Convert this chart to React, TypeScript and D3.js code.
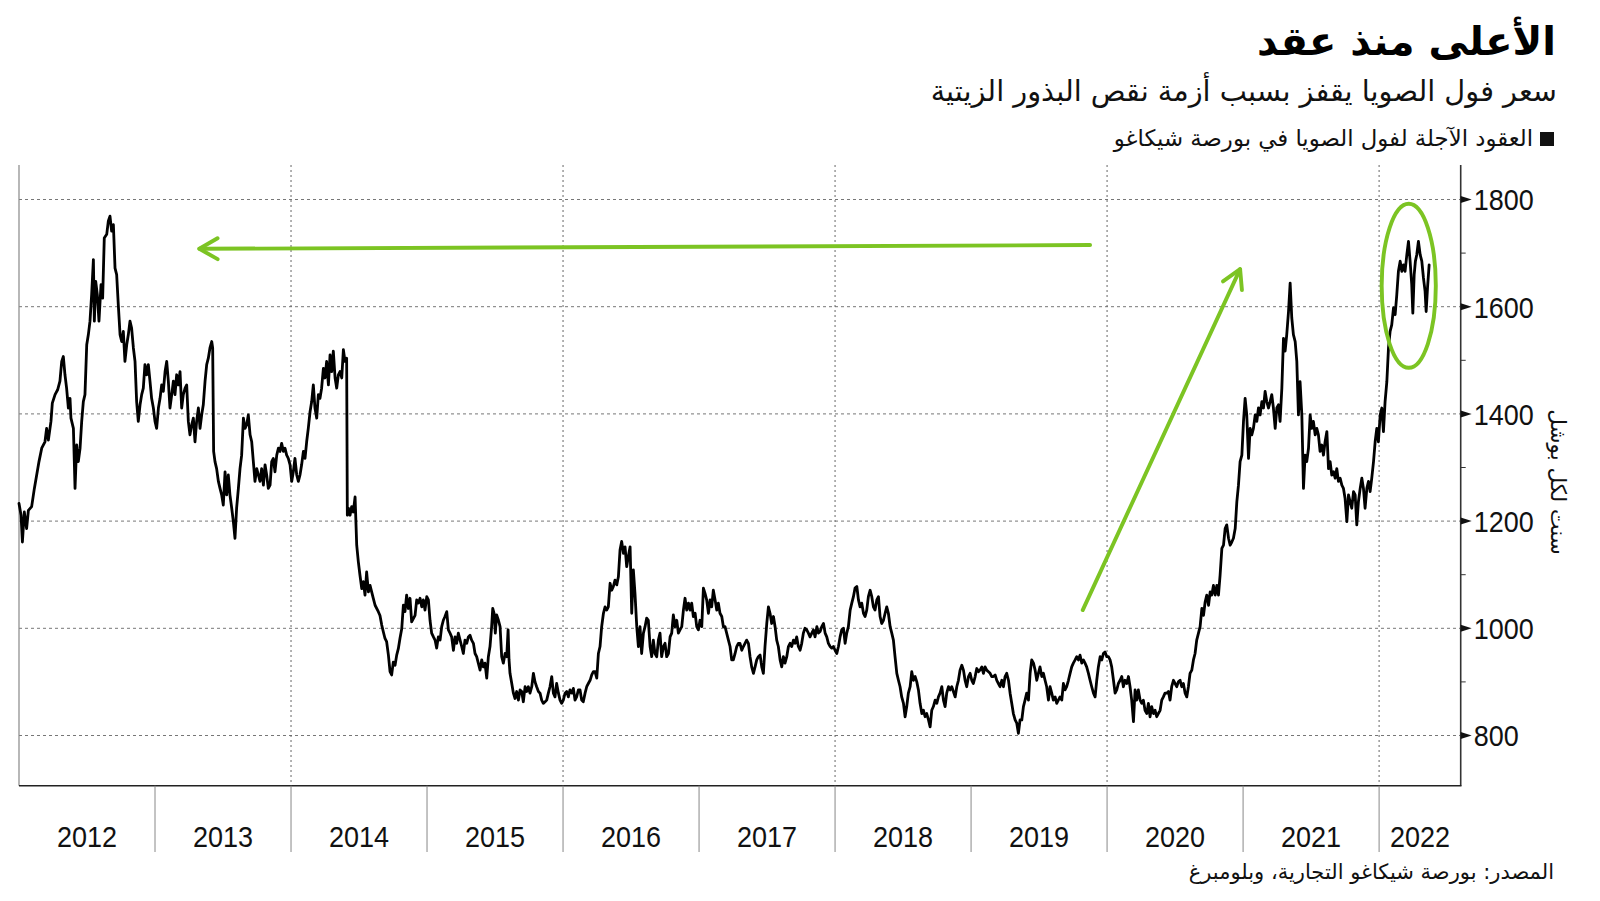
import React from "react";
import * as d3 from "d3";

// ---------- data (decimal year, cents per bushel) ----------
const futures2012to2014: [number, number][] = [
  [2012.000,1233],[2012.015,1211],[2012.025,1161],[2012.039,1217],[2012.056,1186],[2012.069,1220],[2012.093,1227],[2012.113,1261],[2012.130,1286],[2012.147,1311],[2012.167,1336],[2012.191,1348],[2012.203,1373],[2012.216,1351],[2012.235,1386],[2012.245,1420],[2012.265,1436],[2012.284,1445],[2012.301,1461],[2012.314,1498],[2012.326,1507],[2012.338,1473],[2012.350,1448],[2012.363,1411],[2012.375,1429],[2012.382,1392],[2012.400,1373],[2012.412,1261],[2012.424,1342],[2012.436,1311],[2012.449,1336],[2012.461,1386],[2012.473,1423],[2012.485,1436],[2012.498,1529],[2012.510,1548],[2012.522,1573],[2012.534,1622],[2012.547,1688],[2012.554,1573],[2012.564,1647],[2012.576,1622],[2012.588,1573],[2012.603,1641],[2012.615,1616],[2012.627,1728],[2012.645,1735],[2012.657,1760],[2012.669,1769],[2012.681,1741],[2012.694,1753],[2012.706,1672],[2012.718,1660],[2012.730,1604],[2012.743,1548],[2012.755,1535],[2012.767,1554],[2012.779,1498],[2012.792,1529],[2012.804,1548],[2012.816,1573],[2012.828,1560],[2012.841,1523],[2012.853,1498],[2012.865,1423],[2012.877,1386],[2012.890,1417],[2012.902,1436],[2012.914,1448],[2012.926,1492],[2012.939,1473],[2012.951,1492],[2012.963,1461],[2012.975,1429],[2012.988,1411],
  [2013.000,1386],[2013.012,1373],[2013.025,1411],[2013.037,1429],[2013.049,1454],[2013.061,1442],[2013.074,1479],[2013.086,1498],[2013.098,1461],[2013.110,1411],[2013.123,1436],[2013.135,1461],[2013.147,1436],[2013.159,1473],[2013.172,1454],[2013.184,1479],[2013.196,1411],[2013.208,1436],[2013.221,1448],[2013.233,1454],[2013.245,1386],[2013.257,1361],[2013.270,1380],[2013.282,1392],[2013.294,1348],[2013.306,1386],[2013.319,1411],[2013.331,1373],[2013.343,1398],[2013.355,1417],[2013.368,1461],[2013.380,1492],[2013.392,1504],[2013.404,1523],[2013.417,1535],[2013.424,1523],[2013.431,1330],[2013.441,1311],[2013.453,1298],[2013.466,1274],[2013.478,1261],[2013.490,1249],[2013.502,1230],[2013.515,1292],[2013.527,1249],[2013.539,1286],[2013.551,1249],[2013.564,1224],[2013.576,1199],[2013.588,1168],[2013.600,1224],[2013.613,1261],[2013.625,1298],[2013.637,1323],[2013.650,1392],[2013.662,1373],[2013.674,1380],[2013.686,1398],[2013.699,1361],[2013.711,1348],[2013.723,1311],[2013.735,1274],[2013.748,1298],[2013.760,1286],[2013.772,1274],[2013.784,1298],[2013.797,1267],[2013.809,1305],[2013.821,1286],[2013.833,1261],[2013.846,1267],[2013.858,1311],[2013.870,1317],[2013.882,1292],[2013.895,1323],[2013.907,1336],[2013.919,1330],[2013.931,1345],[2013.944,1330],[2013.956,1336],[2013.968,1323],[2013.980,1317],[2013.993,1305],
  [2014.005,1274],[2014.017,1292],[2014.029,1317],[2014.042,1286],[2014.054,1274],[2014.066,1286],[2014.078,1305],[2014.091,1330],[2014.103,1317],[2014.115,1348],[2014.127,1373],[2014.140,1404],[2014.152,1423],[2014.164,1454],[2014.176,1411],[2014.189,1392],[2014.201,1436],[2014.213,1429],[2014.225,1448],[2014.238,1485],[2014.250,1467],[2014.262,1498],[2014.275,1454],[2014.287,1510],[2014.299,1479],[2014.311,1517],[2014.324,1467],[2014.336,1448],[2014.348,1473],[2014.360,1479],[2014.373,1467],[2014.385,1520],[2014.397,1498],[2014.409,1504],[2014.414,1211],[2014.422,1224],[2014.434,1211],[2014.446,1227],[2014.458,1217],[2014.471,1245],[2014.483,1155],[2014.495,1124],[2014.507,1099],[2014.520,1074],[2014.532,1087],[2014.544,1062],[2014.556,1105],[2014.569,1068],[2014.581,1080],[2014.593,1068],[2014.605,1056],[2014.618,1043],[2014.642,1031],[2014.654,1024],[2014.667,1006],[2014.679,993],[2014.691,981],[2014.703,975],[2014.716,950],[2014.728,919],[2014.740,913],[2014.752,937],[2014.765,931],[2014.777,950],[2014.789,962],[2014.801,981],[2014.814,999],[2014.826,1043],[2014.838,1031],[2014.850,1062],[2014.863,1037],[2014.875,1056],[2014.887,1012],[2014.912,1024],
];

const futures2015to2017: [number, number][] = [
  [2014.924,1053],[2014.936,1047],[2014.949,1056],[2014.961,1040],[2014.973,1053],[2014.985,1034],[2014.998,1059],
  [2015.010,1053],[2015.022,1015],[2015.034,991],[2015.047,984],[2015.059,978],[2015.071,963],[2015.083,984],[2015.096,978],[2015.108,1003],[2015.120,1015],[2015.132,1022],[2015.145,1031],[2015.157,997],[2015.169,991],[2015.181,984],[2015.194,959],[2015.206,984],[2015.218,972],[2015.230,991],[2015.243,978],[2015.255,966],[2015.267,953],[2015.279,978],[2015.292,972],[2015.304,984],[2015.316,987],[2015.328,978],[2015.341,972],[2015.353,953],[2015.365,947],[2015.377,935],[2015.390,922],[2015.402,941],[2015.414,928],[2015.426,935],[2015.439,907],[2015.451,947],[2015.463,966],[2015.475,1003],[2015.483,1037],[2015.493,1028],[2015.502,991],[2015.512,1025],[2015.525,1015],[2015.537,1003],[2015.549,947],[2015.561,935],[2015.574,953],[2015.586,947],[2015.596,997],[2015.603,941],[2015.610,916],[2015.623,897],[2015.635,879],[2015.647,869],[2015.659,882],[2015.672,866],[2015.684,885],[2015.696,882],[2015.708,863],[2015.721,891],[2015.733,882],[2015.745,891],[2015.757,879],[2015.770,891],[2015.782,916],[2015.794,900],[2015.806,891],[2015.819,882],[2015.831,879],[2015.843,866],[2015.855,860],[2015.868,863],[2015.880,866],[2015.892,879],[2015.904,891],[2015.917,910],[2015.929,879],[2015.941,872],[2015.953,897],[2015.966,879],[2015.978,866],[2015.990,860],
  [2016.002,866],[2016.015,879],[2016.027,882],[2016.039,872],[2016.051,885],[2016.064,879],[2016.076,888],[2016.088,866],[2016.100,872],[2016.113,885],[2016.125,885],[2016.137,866],[2016.149,863],[2016.162,879],[2016.174,891],[2016.186,897],[2016.199,903],[2016.211,913],[2016.223,919],[2016.235,919],[2016.248,907],[2016.260,953],[2016.272,966],[2016.284,1003],[2016.297,1028],[2016.309,1040],[2016.321,1034],[2016.333,1040],[2016.346,1084],[2016.358,1071],[2016.370,1078],[2016.382,1090],[2016.395,1081],[2016.407,1096],[2016.419,1146],[2016.431,1162],[2016.444,1140],[2016.456,1152],[2016.468,1115],[2016.480,1134],[2016.493,1152],[2016.505,1028],[2016.517,1109],[2016.529,1065],[2016.542,1003],[2016.554,966],[2016.566,1003],[2016.578,953],[2016.591,991],[2016.603,1003],[2016.615,1019],[2016.627,1015],[2016.640,966],[2016.652,947],[2016.664,978],[2016.676,953],[2016.689,947],[2016.701,978],[2016.713,991],[2016.725,947],[2016.738,966],[2016.750,972],[2016.762,947],[2016.775,953],[2016.787,984],[2016.799,991],[2016.811,1025],[2016.824,1003],[2016.836,1015],[2016.848,991],[2016.860,997],[2016.873,1003],[2016.885,1034],[2016.897,1056],[2016.909,1034],[2016.922,1047],[2016.934,1034],[2016.946,1047],[2016.958,1022],[2016.971,1028],[2016.983,1003],[2016.995,997],
  [2017.007,1015],[2017.020,1003],[2017.032,1075],[2017.044,1065],[2017.056,1053],[2017.069,1028],[2017.081,1053],[2017.093,1040],[2017.105,1071],[2017.118,1053],[2017.130,1034],[2017.142,1047],[2017.154,1028],[2017.167,1022],[2017.179,1003],[2017.191,1003],[2017.203,991],[2017.216,978],[2017.228,966],[2017.240,941],[2017.252,941],[2017.265,953],[2017.277,966],[2017.289,972],[2017.301,972],[2017.314,959],[2017.326,966],[2017.338,972],[2017.350,978],[2017.363,972],[2017.375,947],[2017.387,928],[2017.400,916],[2017.412,928],[2017.424,941],[2017.436,947],[2017.449,950],[2017.461,928],[2017.473,916],[2017.485,966],[2017.498,1009],[2017.510,1040],[2017.522,1028],[2017.534,1009],[2017.547,1022],[2017.559,1003],[2017.571,978],[2017.583,966],[2017.596,941],[2017.608,928],[2017.620,947],[2017.632,935],[2017.645,947],[2017.657,966],[2017.669,972],[2017.681,966],[2017.694,978],[2017.706,972],[2017.718,984],[2017.730,966],[2017.743,959],[2017.755,972],[2017.767,991],[2017.779,1000],[2017.792,997],[2017.804,991],[2017.816,984],
];

const futures2018to2020: [number, number][] = [
  [2017.829,991],[2017.841,997],[2017.853,984],[2017.866,1003],[2017.878,991],[2017.890,994],[2017.902,1003],[2017.915,1009],[2017.927,991],[2017.939,984],[2017.951,972],[2017.964,966],[2017.976,963],[2017.988,966],
  [2018.000,959],[2018.013,953],[2018.025,966],[2018.037,984],[2018.049,997],[2018.062,1000],[2018.074,972],[2018.086,991],[2018.098,1003],[2018.111,1034],[2018.123,1047],[2018.135,1059],[2018.147,1075],[2018.160,1078],[2018.172,1053],[2018.184,1040],[2018.196,1047],[2018.209,1028],[2018.221,1022],[2018.233,1034],[2018.245,1059],[2018.258,1071],[2018.270,1059],[2018.282,1040],[2018.294,1034],[2018.307,1053],[2018.319,1059],[2018.331,1022],[2018.343,1009],[2018.356,1015],[2018.368,1028],[2018.380,1040],[2018.392,1028],[2018.405,1003],[2018.417,991],[2018.429,978],[2018.441,947],[2018.454,916],[2018.466,903],[2018.478,891],[2018.490,872],[2018.503,860],[2018.515,835],[2018.527,854],[2018.539,879],[2018.552,891],[2018.564,919],[2018.576,903],[2018.589,910],[2018.601,900],[2018.613,885],[2018.625,860],[2018.638,841],[2018.650,847],[2018.662,835],[2018.674,841],[2018.687,829],[2018.699,816],[2018.711,847],[2018.723,854],[2018.736,866],[2018.748,860],[2018.760,872],[2018.772,879],[2018.785,891],[2018.797,866],[2018.809,854],[2018.821,879],[2018.834,891],[2018.846,885],[2018.858,891],[2018.870,882],[2018.883,872],[2018.895,891],[2018.907,903],[2018.919,922],[2018.932,931],[2018.944,922],[2018.956,903],[2018.968,891],[2018.981,910],[2018.993,916],
  [2019.005,903],[2019.017,897],[2019.030,910],[2019.042,925],[2019.054,919],[2019.066,922],[2019.079,928],[2019.091,916],[2019.103,928],[2019.115,922],[2019.128,919],[2019.140,916],[2019.152,910],[2019.164,910],[2019.177,913],[2019.189,903],[2019.201,897],[2019.213,891],[2019.226,903],[2019.238,891],[2019.250,910],[2019.262,916],[2019.275,903],[2019.287,879],[2019.299,860],[2019.311,841],[2019.324,829],[2019.336,823],[2019.348,804],[2019.360,829],[2019.373,829],[2019.385,854],[2019.397,866],[2019.409,879],[2019.422,866],[2019.434,916],[2019.446,941],[2019.459,935],[2019.471,922],[2019.483,903],[2019.495,916],[2019.507,928],[2019.520,910],[2019.532,916],[2019.544,903],[2019.556,891],[2019.569,866],[2019.581,891],[2019.593,879],[2019.605,866],[2019.618,872],[2019.630,860],[2019.642,866],[2019.654,872],[2019.667,866],[2019.679,897],[2019.691,885],[2019.703,891],[2019.716,903],[2019.728,916],[2019.740,928],[2019.752,935],[2019.765,941],[2019.777,947],[2019.789,941],[2019.801,950],[2019.814,935],[2019.826,941],[2019.838,935],[2019.850,928],[2019.863,916],[2019.875,903],[2019.887,891],[2019.900,879],[2019.912,872],[2019.924,903],[2019.936,928],[2019.949,947],[2019.961,941],[2019.973,953],[2019.985,956],[2019.998,947],
  [2020.010,947],[2020.022,941],[2020.034,928],[2020.047,903],[2020.059,879],[2020.071,885],[2020.083,897],[2020.096,903],[2020.108,910],[2020.120,891],[2020.132,903],[2020.145,897],[2020.157,910],[2020.169,891],[2020.181,866],[2020.194,826],[2020.206,885],[2020.218,866],[2020.230,885],[2020.243,866],[2020.255,860],[2020.267,866],[2020.279,847],[2020.292,841],[2020.304,860],[2020.316,835],[2020.328,854],[2020.341,841],[2020.353,847],[2020.365,835],[2020.377,841],[2020.390,847],[2020.402,866],[2020.414,872],[2020.426,879],[2020.439,879],[2020.451,882],[2020.463,866],[2020.475,891],[2020.488,903],[2020.500,897],[2020.512,891],[2020.524,900],[2020.537,903],[2020.549,891],[2020.561,897],[2020.574,879],[2020.586,872],[2020.598,891],[2020.610,916],[2020.623,922],[2020.635,941],[2020.647,953],[2020.659,978],[2020.672,991],[2020.684,1003],
];

const futures2020to2022: [number, number][] = [
  [2020.697,1037],[2020.709,1024],[2020.721,1049],[2020.733,1062],[2020.746,1043],[2020.758,1068],[2020.770,1062],[2020.782,1080],[2020.795,1062],[2020.807,1080],[2020.819,1062],[2020.831,1099],[2020.844,1149],[2020.856,1155],[2020.868,1186],[2020.880,1193],[2020.893,1168],[2020.905,1155],[2020.917,1161],[2020.929,1168],[2020.942,1186],[2020.954,1236],[2020.966,1267],[2020.978,1311],[2020.991,1323],
  [2021.003,1386],[2021.015,1429],[2021.027,1398],[2021.040,1317],[2021.052,1373],[2021.064,1361],[2021.076,1373],[2021.089,1398],[2021.101,1386],[2021.113,1411],[2021.125,1398],[2021.138,1423],[2021.150,1411],[2021.162,1442],[2021.174,1423],[2021.187,1411],[2021.199,1423],[2021.211,1436],[2021.223,1411],[2021.236,1373],[2021.248,1411],[2021.260,1417],[2021.272,1386],[2021.285,1448],[2021.297,1541],[2021.309,1517],[2021.321,1548],[2021.334,1591],[2021.346,1644],[2021.358,1579],[2021.370,1548],[2021.383,1535],[2021.395,1498],[2021.407,1398],[2021.419,1460],[2021.432,1398],[2021.444,1261],[2021.456,1323],[2021.468,1311],[2021.481,1336],[2021.493,1398],[2021.505,1373],[2021.517,1386],[2021.530,1361],[2021.542,1373],[2021.554,1361],[2021.566,1330],[2021.579,1342],[2021.591,1323],[2021.603,1348],[2021.616,1367],[2021.628,1298],[2021.640,1311],[2021.652,1286],[2021.665,1292],[2021.677,1280],[2021.689,1298],[2021.701,1274],[2021.714,1280],[2021.726,1267],[2021.738,1261],[2021.750,1242],[2021.763,1199],[2021.775,1249],[2021.787,1236],[2021.799,1224],[2021.812,1255],[2021.824,1249],[2021.836,1193],[2021.848,1236],[2021.861,1261],[2021.873,1280],[2021.885,1261],[2021.897,1224],[2021.910,1261],[2021.922,1274],[2021.934,1255],[2021.946,1280],[2021.959,1311],[2021.971,1348],[2021.983,1373],[2021.995,1348],
  [2022.008,1398],[2022.020,1411],[2022.032,1367],[2022.044,1423],[2022.057,1460],[2022.069,1523],[2022.081,1554],[2022.093,1566],[2022.106,1598],[2022.118,1585],[2022.130,1622],[2022.142,1666],[2022.155,1685],[2022.167,1666],[2022.179,1678],[2022.191,1666],[2022.204,1697],[2022.216,1722],[2022.228,1685],[2022.240,1641],[2022.248,1588],[2022.258,1660],[2022.267,1685],[2022.277,1697],[2022.289,1722],[2022.302,1697],[2022.314,1685],[2022.326,1654],[2022.338,1629],[2022.346,1591],[2022.356,1635],[2022.368,1678],
];

const yearLabels = [2012, 2013, 2014, 2015, 2016, 2017, 2018, 2019, 2020, 2021, 2022];
const yearTicks = [2013, 2014, 2015, 2016, 2017, 2018, 2019, 2020, 2021, 2022];
const gridYears = [2014, 2016, 2018, 2020, 2022];
const valueTicks = [800, 1000, 1200, 1400, 1600, 1800];
const minorValueTicks = [900, 1100, 1300, 1500, 1700];

const titleText = "الأعلى منذ عقد";
const subtitleText = "سعر فول الصويا يقفز بسبب أزمة نقص البذور الزيتية";
const legendText = "العقود الآجلة لفول الصويا في بورصة شيكاغو";
const unitText = "سنت لكل بوشل";
const sourceText = "المصدر: بورصة شيكاغو التجارية، وبلومبرغ";

// annotation anchors, in data units (year, cents)
const arrowBack: [[number, number], [number, number]] = [[2019.875, 1715], [2013.326, 1708]];
const arrowUp: [[number, number], [number, number]] = [[2019.821, 1034], [2020.978, 1670]];
const highlightCenter: [number, number] = [2022.218, 1639];
const highlightRadius = { years: 0.199, cents: 153 };

const xDomain: [number, number] = [2012, 2022.6];

// ---------- layout ----------
const W = 1600;
const H = 901;
const plotLeft = 19;
const plotRight = 1460.7;
const plotTop = 165;
const plotBottom = 785.7;
const GREEN = "#7cc423";
const AR_FONT = "'DejaVu Sans', sans-serif";
const NUM_FONT = "'Liberation Sans', Arial, sans-serif";

function arrowHead(from: [number, number], to: [number, number], len = 21, ang = 0.52): string {
  const a = Math.atan2(from[1] - to[1], from[0] - to[0]);
  const p1 = [to[0] + len * Math.cos(a + ang), to[1] + len * Math.sin(a + ang)];
  const p2 = [to[0] + len * Math.cos(a - ang), to[1] + len * Math.sin(a - ang)];
  return `M${p1[0]},${p1[1]}L${to[0]},${to[1]}L${p2[0]},${p2[1]}`;
}

export default function App() {
  const x = d3.scaleLinear().domain(xDomain).range([plotLeft, plotRight]);
  const y = d3.scaleLinear().domain([800, 1800]).range([735.5, 199.5]);

  const series = [...futures2012to2014, ...futures2015to2017, ...futures2018to2020, ...futures2020to2022];
  const line = d3
    .line<[number, number]>()
    .x((d) => x(d[0]))
    .y((d) => y(d[1]));

  const a1f: [number, number] = [x(arrowBack[0][0]), y(arrowBack[0][1])];
  const a1t: [number, number] = [x(arrowBack[1][0]), y(arrowBack[1][1])];
  const a2f: [number, number] = [x(arrowUp[0][0]), y(arrowUp[0][1])];
  const a2t: [number, number] = [x(arrowUp[1][0]), y(arrowUp[1][1])];
  const ecx = x(highlightCenter[0]);
  const ecy = y(highlightCenter[1]);
  const erx = x(xDomain[0] + highlightRadius.years) - x(xDomain[0]);
  const ery = y(800) - y(800 + highlightRadius.cents);

  return (
    <svg
      width={W}
      height={H}
      viewBox={`0 0 ${W} ${H}`}
      style={{ position: "absolute", left: 0, top: 0, background: "#fff" }}
    >
      <rect x={0} y={0} width={W} height={H} fill="#fff" />

      {/* titles */}
      <text x={1556} y={55} direction="rtl" textAnchor="start" fontFamily={AR_FONT} fontWeight="bold" fontSize={40} fill="#000">
        {titleText}
      </text>
      <text x={1557} y={101} direction="rtl" textAnchor="start" fontFamily={AR_FONT} fontSize={28.8} fill="#111">
        {subtitleText}
      </text>
      <rect x={1540} y={132} width={14} height={14} fill="#111" />
      <text x={1533} y={146} direction="rtl" textAnchor="start" fontFamily={AR_FONT} fontSize={22.8} fill="#111">
        {legendText}
      </text>

      {/* horizontal grid */}
      {valueTicks.map((v) => (
        <line key={"g" + v} x1={plotLeft} x2={plotRight} y1={y(v)} y2={y(v)} stroke="#777" strokeWidth={1} strokeDasharray="3,3" />
      ))}
      {/* vertical grid */}
      {gridYears.map((yr) => (
        <line key={"v" + yr} x1={x(yr)} x2={x(yr)} y1={plotTop} y2={plotBottom} stroke="#666" strokeWidth={1} strokeDasharray="2,3" />
      ))}

      {/* frame */}
      <line x1={plotLeft} x2={plotLeft} y1={plotTop} y2={plotBottom} stroke="#888" strokeWidth={1.2} />
      <line x1={plotRight} x2={plotRight} y1={plotTop} y2={plotBottom} stroke="#333" strokeWidth={1.6} />
      <line x1={plotLeft} x2={plotRight + 0.8} y1={plotBottom} y2={plotBottom} stroke="#222" strokeWidth={1.6} />

      {/* year ticks and labels */}
      {yearTicks.map((yr) => (
        <line key={"t" + yr} x1={x(yr)} x2={x(yr)} y1={plotBottom} y2={852} stroke="#888" strokeWidth={1} />
      ))}
      {yearLabels.map((yr) => {
        const end = Math.min(yr + 1, xDomain[1]);
        const cx = (x(yr) + x(end)) / 2;
        return (
          <g key={"yl" + yr} transform={`translate(${cx},847) scale(0.9,1)`}>
            <text x={0} y={0} textAnchor="middle" fontFamily={NUM_FONT} fontSize={30} fill="#111">
              {yr}
            </text>
          </g>
        );
      })}

      {/* right axis ticks */}
      {minorValueTicks.map((v) => (
        <line key={"m" + v} x1={plotRight} x2={plotRight + 5} y1={y(v)} y2={y(v)} stroke="#333" strokeWidth={1} />
      ))}
      {valueTicks.map((v) => (
        <g key={"vt" + v}>
          <path d={`M${plotRight},${y(v) - 3.5}L${plotRight + 11},${y(v)}L${plotRight},${y(v) + 3.5}Z`} fill="#111" />
          <g transform={`translate(${plotRight + 13},${y(v) + 10.8}) scale(0.9,1)`}>
            <text x={0} y={0} fontFamily={NUM_FONT} fontSize={30} fill="#111">
              {v}
            </text>
          </g>
        </g>
      ))}
      <text
        transform={`translate(1551,482) rotate(90)`}
        textAnchor="middle"
        fontFamily={AR_FONT}
        fontSize={21.5}
        fill="#111"
      >
        {unitText}
      </text>

      {/* price line */}
      <path d={line(series) || ""} fill="none" stroke="#000" strokeWidth={2.8} strokeLinejoin="round" strokeLinecap="round" />

      {/* annotations */}
      <g stroke={GREEN} strokeWidth={3.9} fill="none" strokeLinecap="round" strokeLinejoin="round">
        <line x1={a1f[0]} y1={a1f[1]} x2={a1t[0]} y2={a1t[1]} />
        <path d={arrowHead(a1f, a1t)} />
        <line x1={a2f[0]} y1={a2f[1]} x2={a2t[0]} y2={a2t[1]} />
        <path d={arrowHead(a2f, a2t)} />
        <ellipse cx={ecx} cy={ecy} rx={erx} ry={ery} />
      </g>

      {/* source */}
      <text x={1554} y={879} direction="rtl" textAnchor="start" fontFamily={AR_FONT} fontSize={21} fill="#111">
        {sourceText}
      </text>
    </svg>
  );
}
